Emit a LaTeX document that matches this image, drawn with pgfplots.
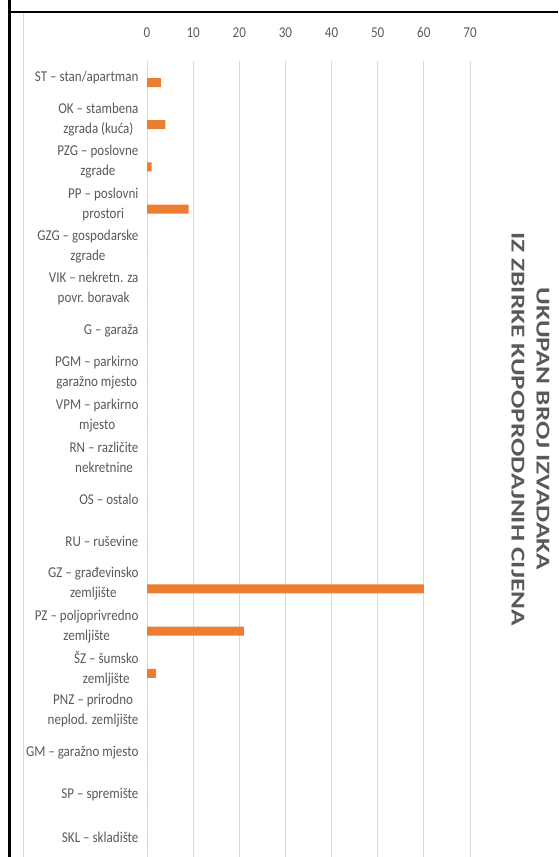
\documentclass[border=0pt]{standalone}
\usepackage{pgfplots}
\pgfplotsset{compat=1.18}
\usepackage{fontspec}
\setmainfont{Carlito}
\newfontfamily\lblfont[FakeStretch=0.87]{Carlito}
\definecolor{txt}{HTML}{595959}
\definecolor{barc}{HTML}{ED7D31}
\definecolor{gridc}{HTML}{D9D9D9}
\pgfplotstableread{
idx val
0 3
1 4
2 1
3 9
4 0
5 0
6 0
7 0
8 0
9 0
10 0
11 0
12 60
13 21
14 2
15 0
16 0
17 0
18 0
}\datatable
\begin{document}
\begin{tikzpicture}[x=1pt,y=1pt]
\useasboundingbox (0,0) rectangle (558,857);
\draw[gridc, line width=1pt] (23,844) -- (23,0);
\draw[black, line width=3pt] (9,857) -- (9,0);
\draw[black, line width=2pt] (7.5,844.5) -- (558,844.5);
\begin{axis}[
  at={(308.5pt,397.8pt)}, anchor=center,
  width=323pt, height=795.6pt, scale only axis,
  xbar, bar width=9pt,
  xmin=0, xmax=70, ymin=-0.5, ymax=18.35, y dir=reverse,
  xtick={0,10,...,70}, xticklabel pos=upper,
  ytick={0,...,18},
  yticklabels={
    {ST – stan/apartman},
    {OK – stambena\\zgrada (kuća)},
    {PZG – poslovne\\zgrade},
    {PP – poslovni\\prostori},
    {GZG – gospodarske\\zgrade},
    {VIK – nekretn. za\\povr. boravak},
    {G – garaža},
    {PGM – parkirno\\garažno mjesto},
    {VPM – parkirno\\mjesto},
    {RN – različite\\nekretnine},
    {OS – ostalo},
    {RU – ruševine},
    {GZ – građevinsko\\zemljište},
    {PZ – poljoprivredno\\zemljište},
    {ŠZ – šumsko\\zemljište},
    {PNZ – prirodno\\neplod. zemljište},
    {GM – garažno mjesto},
    {SP – spremište},
    {SKL – skladište}},
  xmajorgrids, grid style={gridc, line width=1pt},
  axis line style={draw=none},
  major tick length=0pt,
  tick style={draw=none},
  tick label style={font=\lblfont\fontsize{15}{20}\selectfont, text=txt},
  yticklabel style={align=center, yshift=5pt, xshift=-5pt},
  xticklabel style={yshift=20pt},
  /pgf/number format/assume math mode=true,
]
\addplot[fill=barc, draw=none] table[x=val, y=idx] {\datatable};
\end{axis}
\node[rotate=-90, align=center, text=txt, font=\bfseries\fontsize{27.2}{25}\selectfont] at (530.5,428) {\scalebox{1}[0.72]{UKUPAN BROJ IZVADAKA}\\\scalebox{1}[0.72]{IZ ZBIRKE KUPOPRODAJNIH CIJENA}};
\end{tikzpicture}
\end{document}
